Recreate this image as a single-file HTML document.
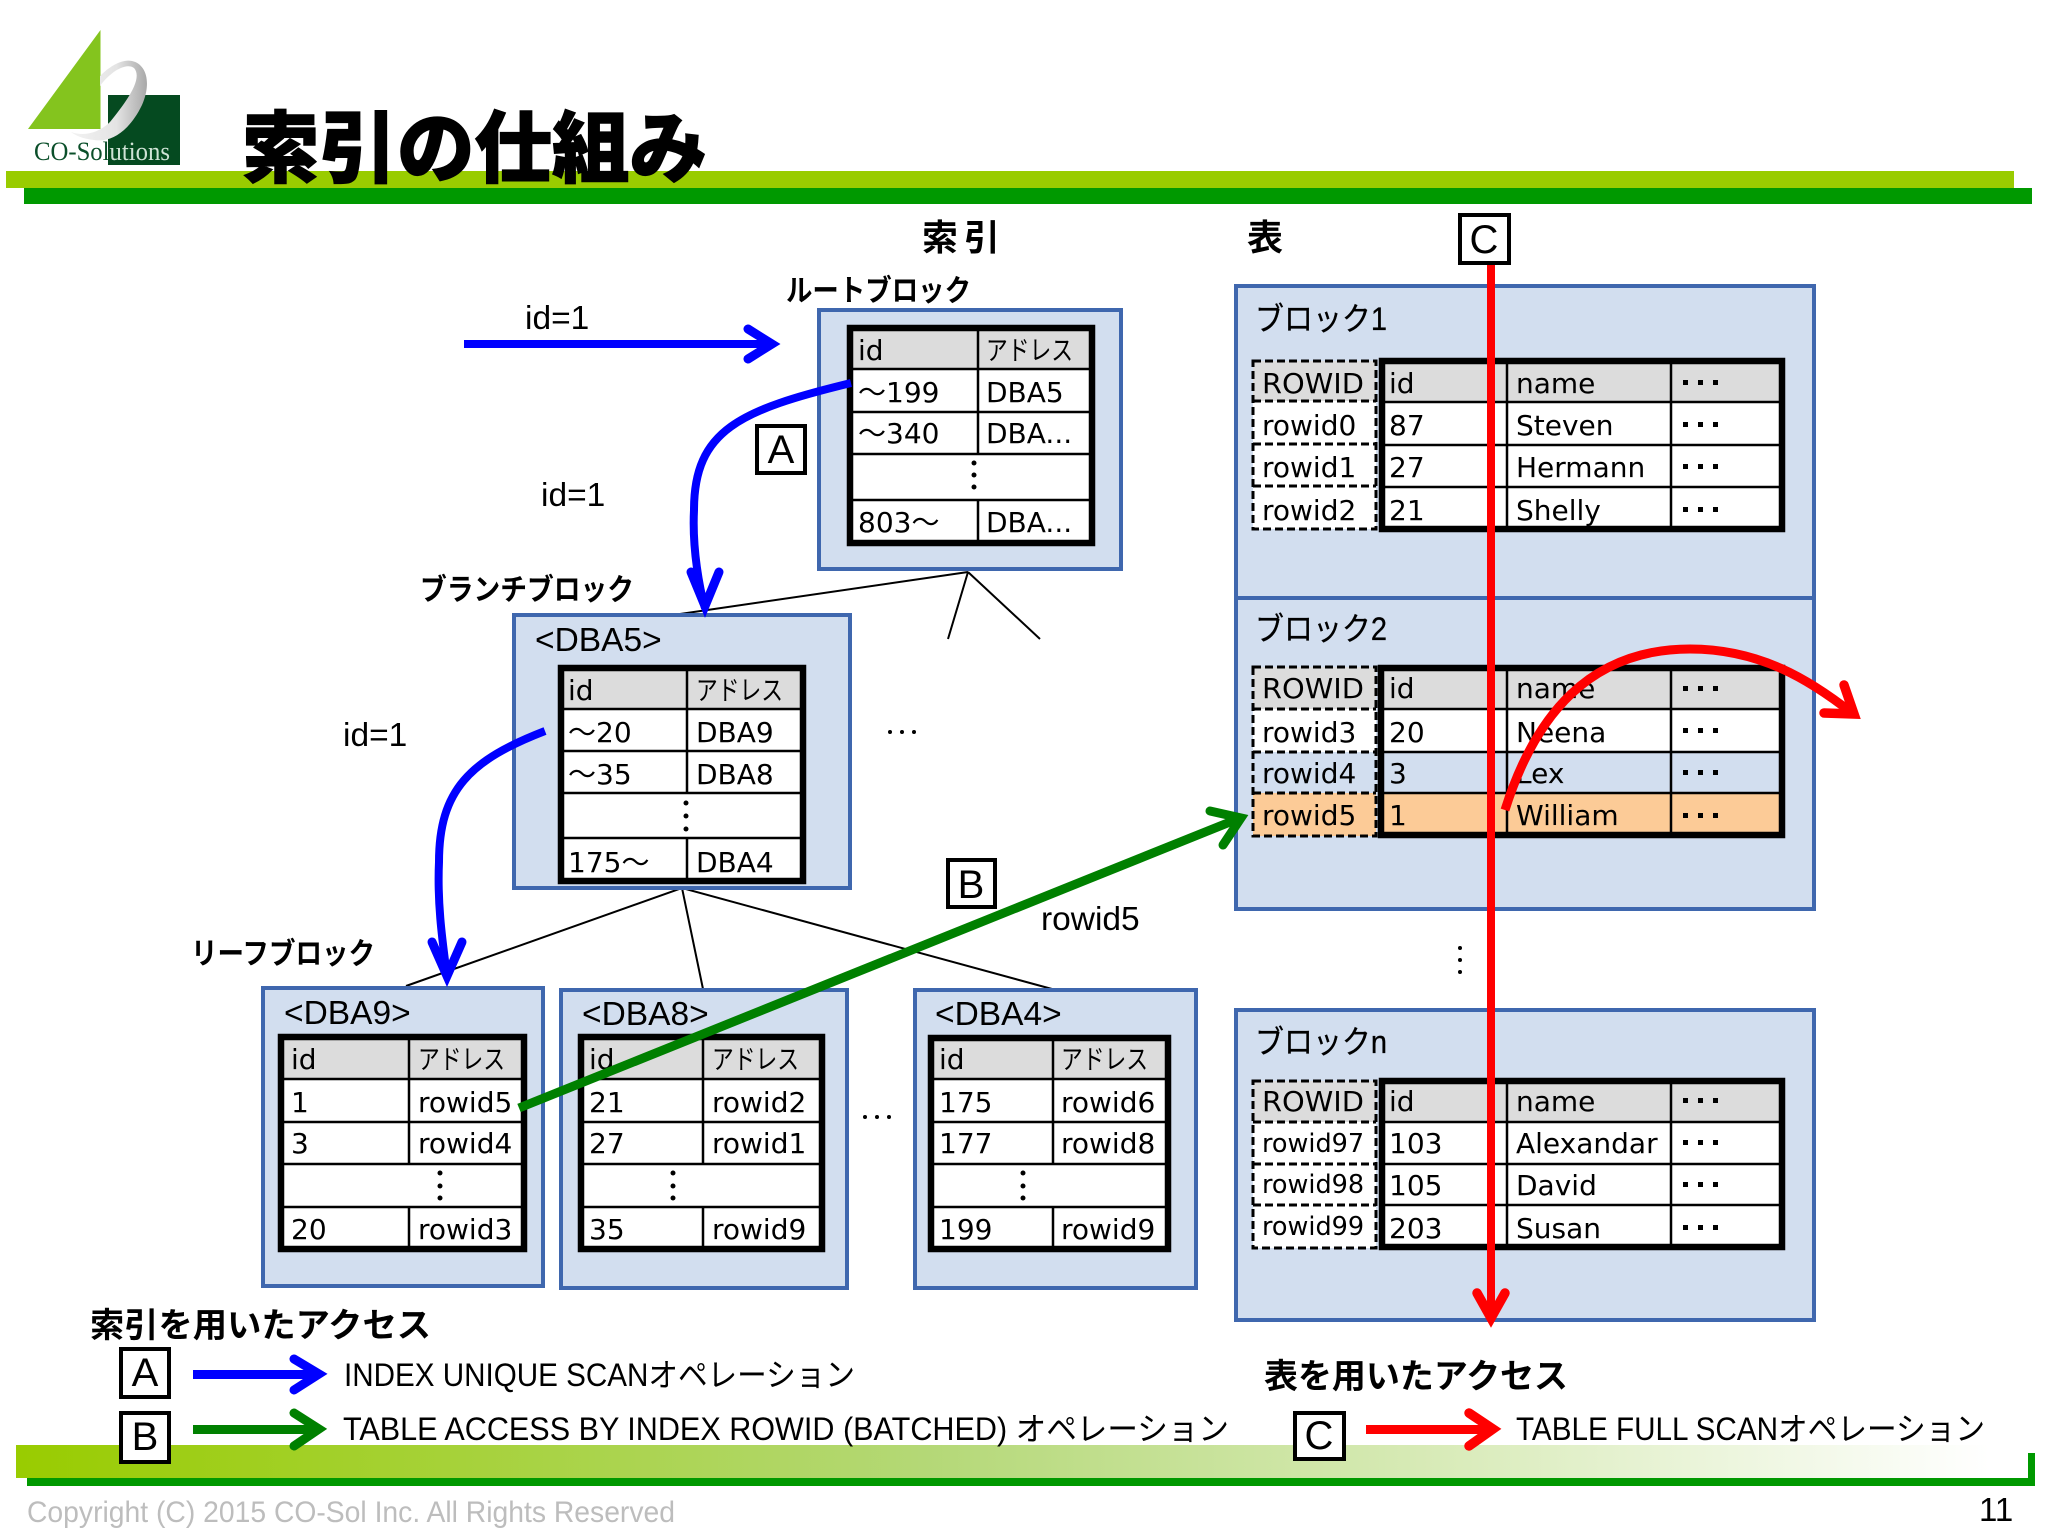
<!DOCTYPE html>
<html lang="ja">
<head>
<meta charset="utf-8">
<title>索引の仕組み</title>
<style>
html,body{margin:0;padding:0;background:#fff;}
svg{display:block;}
text{fill:#000;}
.t{font:28px "DejaVu Sans","Noto Sans CJK JP",sans-serif;}
.a{font:27px "Noto Sans CJK JP","DejaVu Sans",sans-serif;}
.s{font:25.5px "DejaVu Sans",sans-serif;}
.l{font:33.5px "Liberation Sans","Noto Sans CJK JP",sans-serif;}
.j{font:32px "Liberation Sans","Noto Sans CJK JP",sans-serif;}
.b{font:700 30px "Liberation Sans","Noto Sans CJK JP",sans-serif;}
.k{font:700 36px "Noto Sans CJK JP",sans-serif;}
.box{fill:#d2deef;stroke:#3f67ae;stroke-width:4;}
.o{fill:none;stroke:#000;stroke-width:6.5;}
.i{fill:none;stroke:#000;stroke-width:2.5;}
.d{fill:none;stroke:#000;stroke-width:3;stroke-dasharray:8 4;}
.tree{fill:none;stroke:#000;stroke-width:2;}
.sq{fill:#fff;stroke:#000;stroke-width:4;}
.bl{fill:none;stroke:#0000ff;stroke-width:8;stroke-linecap:butt;stroke-linejoin:miter;}
.bh{fill:none;stroke:#0000ff;stroke-width:9;stroke-linecap:round;stroke-linejoin:miter;}
.gr{fill:none;stroke:#008000;stroke-width:9;stroke-linecap:butt;}
.gh{fill:none;stroke:#008000;stroke-width:9;stroke-linecap:round;stroke-linejoin:miter;}
.rd{fill:none;stroke:#ff0000;stroke-width:9;stroke-linecap:butt;}
.rh{fill:none;stroke:#ff0000;stroke-width:9.5;stroke-linecap:round;stroke-linejoin:miter;}
</style>
</head>
<body>
<svg xmlns="http://www.w3.org/2000/svg" width="2048" height="1536" viewBox="0 0 2048 1536">
<defs>
<linearGradient id="fg" x1="0" x2="1" y1="0" y2="0"><stop offset="0" stop-color="#99cc00"/><stop offset="0.45" stop-color="#b4d876"/><stop offset="0.98" stop-color="#ffffff"/></linearGradient>
<linearGradient id="sw" x1="0" x2="1" y1="0" y2="0"><stop offset="0" stop-color="#f2f2f2"/><stop offset="0.6" stop-color="#e4e4e4"/><stop offset="1" stop-color="#a8a8a8"/></linearGradient>
</defs>
<rect width="2048" height="1536" fill="#fff"/>

<!-- header -->
<rect x="6" y="171" width="2008" height="17" fill="#99cc00"/>
<rect x="24" y="188" width="2008" height="16" fill="#009900"/>
<polygon points="100.5,30 28,129 100.5,129" fill="#84c41e"/>
<rect x="108" y="95" width="72" height="70" fill="#054a20"/>
<path d="M100,76C110,66 122,59 132,61C146,64 152,82 142,105C130,130 112,143 94,140C84,139 76,136 71,132C85,137 100,132 110,122C128,100 143,78 134,68C126,62 110,72 100,86Z" fill="url(#sw)"/>
<text x="34" y="160" style="font:26px 'Liberation Serif',serif;fill:#0b4f2a" textLength="136" lengthAdjust="spacingAndGlyphs">CO-So<tspan>l</tspan><tspan style="fill:#cfe3d5">utions</tspan></text>
<text x="242" y="176" style="font:900 78px 'Noto Sans CJK JP',sans-serif;stroke:#000;stroke-width:1.2" textLength="465" lengthAdjust="spacingAndGlyphs">索引の仕組み</text>

<!-- footer -->
<rect x="16" y="1445" width="2014" height="33" fill="url(#fg)"/>
<rect x="27" y="1478" width="2008" height="8" fill="#009900"/>
<rect x="2028" y="1453" width="7" height="33" fill="#009900"/>
<text x="27" y="1522" style="font:30px 'Liberation Sans',sans-serif;fill:#bdbdbd" textLength="648" lengthAdjust="spacingAndGlyphs">Copyright (C) 2015 CO-Sol Inc. All Rights Reserved</text>
<text x="1979" y="1521" style="font:33px 'Liberation Sans',sans-serif">11</text>

<!-- headings -->
<text class="k" x="922" y="250" textLength="78" lengthAdjust="spacing">索引</text>
<text class="k" x="1247" y="250">表</text>
<text class="b" x="786" y="301" textLength="185" lengthAdjust="spacingAndGlyphs">ルートブロック</text>
<text class="b" x="420" y="600" textLength="214" lengthAdjust="spacingAndGlyphs">ブランチブロック</text>
<text class="b" x="191" y="964" textLength="184" lengthAdjust="spacingAndGlyphs">リーフブロック</text>

<text class="l" x="525" y="329">id=1</text>
<text class="l" x="541" y="506">id=1</text>
<text class="l" x="343" y="746">id=1</text>
<text class="l" x="1041" y="930">rowid5</text>

<!-- tree lines -->
<path class="tree" d="M968,572 L680,614 M968,572 L948,639 M968,572 L1040,639"/>
<path class="tree" d="M682,888 L406,986 M682,888 L703,989 M682,888 L1052,989"/>

<!-- root block -->
<rect class="box" x="819" y="310" width="302" height="259"/>
<rect x="850" y="328" width="242" height="215" fill="#fff"/>
<rect x="850" y="328" width="242" height="41" fill="#dcdcdc"/>
<rect class="o" x="850" y="328" width="242" height="215"/>
<path class="i" d="M850,369H1092M850,412H1092M850,454H1092M850,500H1092M978,328V454M978,500V543"/>
<text class="t" x="858" y="360">id</text><text class="a" x="986" y="360" textLength="87" lengthAdjust="spacingAndGlyphs">アドレス</text>
<text class="t" x="858" y="402">～199</text><text class="t" x="986" y="402">DBA5</text>
<text class="t" x="858" y="443">～340</text><text class="t" x="986" y="443">DBA...</text>
<circle cx="974" cy="463" r="2.5"/><circle cx="974" cy="475" r="2.5"/><circle cx="974" cy="487" r="2.5"/>
<text class="t" x="858" y="532">803～</text><text class="t" x="986" y="532">DBA...</text>

<!-- branch block -->
<rect class="box" x="514" y="615" width="336" height="273"/>
<text class="l" x="535" y="651">&lt;DBA5&gt;</text>
<rect x="561" y="668" width="242" height="213" fill="#fff"/>
<rect x="561" y="668" width="242" height="41" fill="#dcdcdc"/>
<rect class="o" x="561" y="668" width="242" height="213"/>
<path class="i" d="M561,709H803M561,751H803M561,793H803M561,838H803M687,668V793M687,838V881"/>
<text class="t" x="568" y="700">id</text><text class="a" x="696" y="700" textLength="87" lengthAdjust="spacingAndGlyphs">アドレス</text>
<text class="t" x="568" y="742">～20</text><text class="t" x="696" y="742">DBA9</text>
<text class="t" x="568" y="784">～35</text><text class="t" x="696" y="784">DBA8</text>
<circle cx="686" cy="803" r="2.5"/><circle cx="686" cy="816" r="2.5"/><circle cx="686" cy="829" r="2.5"/>
<text class="t" x="568" y="872">175～</text><text class="t" x="696" y="872">DBA4</text>
<circle cx="890" cy="732" r="2"/><circle cx="902" cy="732" r="2"/><circle cx="914" cy="732" r="2"/>

<!-- DBA9 -->
<rect class="box" x="263" y="988" width="280" height="298"/>
<text class="l" x="284" y="1024">&lt;DBA9&gt;</text>
<rect x="281" y="1037" width="243" height="212" fill="#fff"/>
<rect x="281" y="1037" width="243" height="42" fill="#dcdcdc"/>
<rect class="o" x="281" y="1037" width="243" height="212"/>
<path class="i" d="M281,1079H524M281,1122H524M281,1164H524M281,1207H524M409,1037V1164M409,1207V1249"/>
<text class="t" x="291" y="1069">id</text><text class="a" x="418" y="1069" textLength="87" lengthAdjust="spacingAndGlyphs">アドレス</text>
<text class="t" x="291" y="1112">1</text><text class="t" x="418" y="1112">rowid5</text>
<text class="t" x="291" y="1153">3</text><text class="t" x="418" y="1153">rowid4</text>
<circle cx="440" cy="1173" r="2.5"/><circle cx="440" cy="1186" r="2.5"/><circle cx="440" cy="1198" r="2.5"/>
<text class="t" x="291" y="1239">20</text><text class="t" x="418" y="1239">rowid3</text>

<!-- DBA8 -->
<rect class="box" x="561" y="990" width="286" height="298"/>
<text class="l" x="582" y="1025">&lt;DBA8&gt;</text>
<rect x="581" y="1037" width="241" height="212" fill="#fff"/>
<rect x="581" y="1037" width="241" height="42" fill="#dcdcdc"/>
<rect class="o" x="581" y="1037" width="241" height="212"/>
<path class="i" d="M581,1079H822M581,1122H822M581,1164H822M581,1207H822M703,1037V1164M703,1207V1249"/>
<text class="t" x="589" y="1069">id</text><text class="a" x="712" y="1069" textLength="87" lengthAdjust="spacingAndGlyphs">アドレス</text>
<text class="t" x="589" y="1112">21</text><text class="t" x="712" y="1112">rowid2</text>
<text class="t" x="589" y="1153">27</text><text class="t" x="712" y="1153">rowid1</text>
<circle cx="673" cy="1173" r="2.5"/><circle cx="673" cy="1186" r="2.5"/><circle cx="673" cy="1198" r="2.5"/>
<text class="t" x="589" y="1239">35</text><text class="t" x="712" y="1239">rowid9</text>
<circle cx="865" cy="1117" r="2"/><circle cx="877" cy="1117" r="2"/><circle cx="889" cy="1117" r="2"/>

<!-- DBA4 -->
<rect class="box" x="915" y="990" width="281" height="298"/>
<text class="l" x="935" y="1025">&lt;DBA4&gt;</text>
<rect x="931" y="1038" width="237" height="211" fill="#fff"/>
<rect x="931" y="1038" width="237" height="41" fill="#dcdcdc"/>
<rect class="o" x="931" y="1038" width="237" height="211"/>
<path class="i" d="M931,1079H1168M931,1122H1168M931,1164H1168M931,1207H1168M1053,1038V1164M1053,1207V1249"/>
<text class="t" x="939" y="1069">id</text><text class="a" x="1061" y="1069" textLength="87" lengthAdjust="spacingAndGlyphs">アドレス</text>
<text class="t" x="939" y="1112">175</text><text class="t" x="1061" y="1112">rowid6</text>
<text class="t" x="939" y="1153">177</text><text class="t" x="1061" y="1153">rowid8</text>
<circle cx="1023" cy="1173" r="2.5"/><circle cx="1023" cy="1186" r="2.5"/><circle cx="1023" cy="1198" r="2.5"/>
<text class="t" x="939" y="1239">199</text><text class="t" x="1061" y="1239">rowid9</text>

<!-- block 1 -->
<rect class="box" x="1236" y="286" width="578" height="312"/>
<text class="j" x="1255" y="330" textLength="132" lengthAdjust="spacingAndGlyphs" style="stroke:#000;stroke-width:.3">ブロック1</text>
<rect x="1253" y="361" width="123" height="40" fill="#dcdcdc"/>
<rect x="1253" y="401" width="123" height="128" fill="#fff"/>
<rect class="d" x="1253" y="361" width="123" height="168"/>
<path class="d" d="M1253,401H1376M1253,444H1376M1253,486H1376"/>
<rect x="1382" y="361" width="400" height="168" fill="#fff"/>
<rect x="1382" y="361" width="400" height="41" fill="#dcdcdc"/>
<rect class="o" x="1382" y="361" width="400" height="168"/>
<path class="i" d="M1382,402H1782M1382,445H1782M1382,487H1782M1507,361V529M1671,361V529"/>
<text class="t" x="1262" y="393" textLength="102" lengthAdjust="spacingAndGlyphs">ROWID</text><text class="t" x="1389" y="393">id</text><text class="t" x="1516" y="393">name</text>
<text class="t" x="1262" y="435">rowid0</text><text class="t" x="1389" y="435">87</text><text class="t" x="1516" y="435">Steven</text>
<text class="t" x="1262" y="477">rowid1</text><text class="t" x="1389" y="477">27</text><text class="t" x="1516" y="477">Hermann</text>
<text class="t" x="1262" y="520">rowid2</text><text class="t" x="1389" y="520">21</text><text class="t" x="1516" y="520">Shelly</text>
<path d="M1683,380h5v5h-5zM1698,380h5v5h-5zM1713,380h5v5h-5zM1683,422h5v5h-5zM1698,422h5v5h-5zM1713,422h5v5h-5zM1683,464h5v5h-5zM1698,464h5v5h-5zM1713,464h5v5h-5zM1683,507h5v5h-5zM1698,507h5v5h-5zM1713,507h5v5h-5z"/>

<!-- block 2 -->
<rect class="box" x="1236" y="598" width="578" height="311"/>
<text class="j" x="1255" y="640" textLength="132" lengthAdjust="spacingAndGlyphs" style="stroke:#000;stroke-width:.3">ブロック2</text>
<rect x="1253" y="667" width="123" height="42" fill="#dcdcdc"/>
<rect x="1253" y="709" width="123" height="43" fill="#fff"/>
<rect x="1253" y="793" width="123" height="43" fill="#fccb97"/>
<rect class="d" x="1253" y="667" width="123" height="169"/>
<path class="d" d="M1253,709H1376M1253,752H1376M1253,793H1376"/>
<rect x="1381" y="668" width="401" height="41" fill="#dcdcdc"/>
<rect x="1381" y="709" width="401" height="43" fill="#fff"/>
<rect x="1381" y="793" width="401" height="42" fill="#fccb97"/>
<rect class="o" x="1381" y="668" width="401" height="167"/>
<path class="i" d="M1381,709H1782M1381,752H1782M1381,793H1782M1507,668V835M1671,668V835"/>
<text class="t" x="1262" y="698" textLength="102" lengthAdjust="spacingAndGlyphs">ROWID</text><text class="t" x="1389" y="698">id</text><text class="t" x="1516" y="698">name</text>
<text class="t" x="1262" y="742">rowid3</text><text class="t" x="1389" y="742">20</text><text class="t" x="1516" y="742">Neena</text>
<text class="t" x="1262" y="783">rowid4</text><text class="t" x="1389" y="783">3</text><text class="t" x="1516" y="783">Lex</text>
<text class="t" x="1262" y="825">rowid5</text><text class="t" x="1389" y="825">1</text><text class="t" x="1516" y="825">William</text>
<path d="M1683,686h5v5h-5zM1698,686h5v5h-5zM1713,686h5v5h-5zM1683,728h5v5h-5zM1698,728h5v5h-5zM1713,728h5v5h-5zM1683,770h5v5h-5zM1698,770h5v5h-5zM1713,770h5v5h-5zM1683,813h5v5h-5zM1698,813h5v5h-5zM1713,813h5v5h-5z"/>

<circle cx="1460" cy="948" r="2"/><circle cx="1460" cy="960" r="2"/><circle cx="1460" cy="972" r="2"/>

<!-- block n -->
<rect class="box" x="1236" y="1010" width="578" height="310"/>
<text class="j" x="1255" y="1053" textLength="132" lengthAdjust="spacingAndGlyphs" style="stroke:#000;stroke-width:.3">ブロックn</text>
<rect x="1253" y="1081" width="123" height="41" fill="#dcdcdc"/>
<rect x="1253" y="1122" width="123" height="126" fill="#fff"/>
<rect class="d" x="1253" y="1081" width="123" height="167"/>
<path class="d" d="M1253,1122H1376M1253,1164H1376M1253,1205H1376"/>
<rect x="1382" y="1081" width="400" height="166" fill="#fff"/>
<rect x="1382" y="1081" width="400" height="41" fill="#dcdcdc"/>
<rect class="o" x="1382" y="1081" width="400" height="166"/>
<path class="i" d="M1382,1122H1782M1382,1164H1782M1382,1205H1782M1507,1081V1247M1671,1081V1247"/>
<text class="t" x="1262" y="1111" textLength="102" lengthAdjust="spacingAndGlyphs">ROWID</text><text class="t" x="1389" y="1111">id</text><text class="t" x="1516" y="1111">name</text>
<text class="s" x="1262" y="1152">rowid97</text><text class="t" x="1389" y="1153">103</text><text class="t" x="1516" y="1153">Alexandar</text>
<text class="s" x="1262" y="1193">rowid98</text><text class="t" x="1389" y="1195">105</text><text class="t" x="1516" y="1195">David</text>
<text class="s" x="1262" y="1235">rowid99</text><text class="t" x="1389" y="1238">203</text><text class="t" x="1516" y="1238">Susan</text>
<path d="M1683,1098h5v5h-5zM1698,1098h5v5h-5zM1713,1098h5v5h-5zM1683,1140h5v5h-5zM1698,1140h5v5h-5zM1713,1140h5v5h-5zM1683,1182h5v5h-5zM1698,1182h5v5h-5zM1713,1182h5v5h-5zM1683,1225h5v5h-5zM1698,1225h5v5h-5zM1713,1225h5v5h-5z"/>

<!-- connectors -->
<path class="bl" d="M464,344H770"/>
<path class="bh" d="M748,329L772,344L748,359"/>
<path class="bl" d="M851,383C740,410 694,430 694,510C692,550 700,590 705,608"/>
<path class="bh" d="M691,572L705,606L719,572"/>
<path class="bl" d="M545,731C470,760 439,790 439,862C437,905 443,945 447,976"/>
<path class="bh" d="M432,942L447,976L462,942"/>
<path class="gr" d="M519,1108L1240,818"/>
<path class="gh" d="M1210,811L1241,818L1223,845"/>
<path class="rd" d="M1505,810C1535,715 1590,649 1690,649C1760,649 1810,680 1852,713"/>
<path class="rh" d="M1844,685L1854,714L1824,713"/>
<path d="M1487,265H1495V1312H1487Z" fill="#ff0000"/>
<path class="rh" d="M1477,1293L1491,1318L1505,1293"/>

<!-- marker boxes -->
<rect class="sq" x="757" y="426" width="48" height="47"/>
<text style="font:40px 'Liberation Sans',sans-serif" x="781" y="463" text-anchor="middle">A</text>
<rect class="sq" x="948" y="860" width="47" height="47"/>
<text style="font:40px 'Liberation Sans',sans-serif" x="971" y="898" text-anchor="middle">B</text>
<rect class="sq" x="1460" y="215" width="49" height="48"/>
<text style="font:40px 'Liberation Sans',sans-serif" x="1484" y="253" text-anchor="middle">C</text>

<!-- legend -->
<text class="b" x="90" y="1337" style="font-size:34px" textLength="341" lengthAdjust="spacingAndGlyphs">索引を用いたアクセス</text>
<rect class="sq" x="121" y="1349" width="48" height="48"/>
<text style="font:40px 'Liberation Sans',sans-serif" x="145" y="1386" text-anchor="middle">A</text>
<path d="M193,1370H316V1379H193Z" fill="#0000ff"/>
<path class="bh" d="M294,1359L319,1374L294,1390"/>
<text class="j" x="344" y="1386" textLength="511" lengthAdjust="spacingAndGlyphs">INDEX UNIQUE SCANオペレーション</text>
<rect class="sq" x="121" y="1413" width="48" height="49"/>
<text style="font:40px 'Liberation Sans',sans-serif" x="145" y="1450" text-anchor="middle">B</text>
<path d="M193,1425H316V1434H193Z" fill="#008000"/>
<path class="gh" d="M294,1413L319,1429L294,1446"/>
<text class="j" x="343" y="1440" textLength="886" lengthAdjust="spacingAndGlyphs">TABLE ACCESS BY INDEX ROWID (BATCHED) オペレーション</text>
<text class="b" x="1264" y="1388" style="font-size:34px" textLength="304" lengthAdjust="spacingAndGlyphs">表を用いたアクセス</text>
<rect class="sq" x="1295" y="1413" width="49" height="46"/>
<text style="font:40px 'Liberation Sans',sans-serif" x="1319" y="1449" text-anchor="middle">C</text>
<path d="M1366,1425H1490V1434H1366Z" fill="#ff0000"/>
<path class="rh" d="M1469,1413L1493,1429L1469,1446"/>
<text class="j" x="1516" y="1440" textLength="469" lengthAdjust="spacingAndGlyphs">TABLE FULL SCANオペレーション</text>
</svg>
</body>
</html>
